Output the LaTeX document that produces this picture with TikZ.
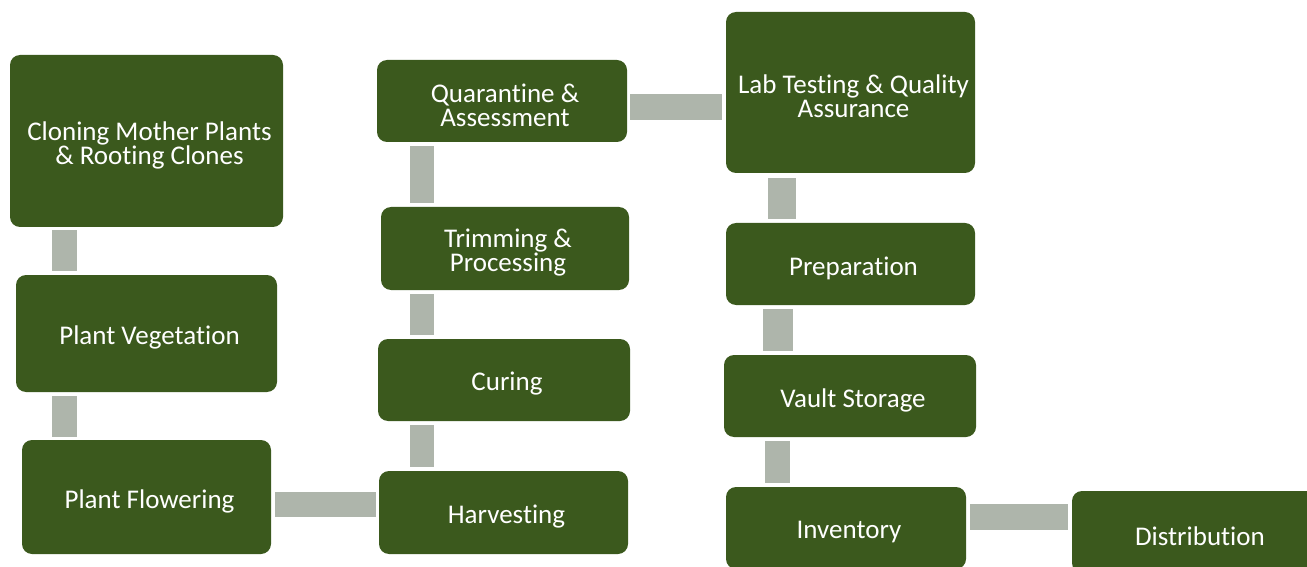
\documentclass[tikz,border=0pt]{standalone}
\usepackage{fontspec}
\setmainfont{Carlito}[Ligatures=NoCommon]
\usetikzlibrary{calc}
\definecolor{leaf}{RGB}{59,89,29}
\definecolor{barcol}{RGB}{174,181,171}
% \stagebox{name}{x}{y}{width}{height}{text}: a green box with its caption
\newcommand{\stagebox}[6]{%
  \node[stage, minimum width=#4, minimum height=#5] (#1) at (#2,#3) {};
  \node[caption] (#1-t) at ([shift={(3,-4)}]#1.center) {#6};}
\begin{document}
\begin{tikzpicture}[x=1pt,y=1pt,
  stage/.style={fill=leaf, rounded corners=10pt, inner sep=0pt},
  caption/.style={text=white, inner sep=0pt, align=center,
    font=\fontsize{27}{24}\selectfont},
  bar/.style={fill=barcol}]
\useasboundingbox (0,0) rectangle (1307,566);
% process stages
\stagebox{clone}{146.5}{425}{273}{172}{Cloning Mother Plants\\ \& Rooting Clones}
\stagebox{veg}{146.5}{232.5}{261}{117}{Plant Vegetation}
\stagebox{flower}{146.5}{69}{249}{114}{Plant Flowering}
\stagebox{harvest}{503.5}{53.5}{249}{83}{Harvesting}
\stagebox{curing}{504}{186}{252}{82}{Curing}
\stagebox{trim}{505}{317.5}{248}{83}{Trimming \&\\ Processing}
\stagebox{quar}{502}{465}{250}{82}{Quarantine \&\\ Assessment}
\stagebox{lab}{850.5}{473.5}{249}{161}{Lab Testing \& Quality\\ Assurance}
\stagebox{prep}{850.5}{302}{249}{82}{Preparation}
\stagebox{vault}{850}{170}{252}{82}{Vault Storage}
\stagebox{inv}{846}{38}{240}{82}{Inventory}
\stagebox{dist}{1197}{34}{250}{82}{Distribution}
% connecting bars
\fill[bar] ($(clone.south west)+(42,-3)$)  rectangle ($(veg.north west)+(61,4)$);
\fill[bar] ($(veg.south west)+(36,-4)$)    rectangle ($(flower.north west)+(55,3)$);
\fill[bar] ($(flower.north east)+(4,-52)$) rectangle ($(harvest.north west)+(-3,-46)$);
\fill[bar] ($(harvest.north west)+(31,4)$) rectangle ($(curing.south west)+(56,-4)$);
\fill[bar] ($(curing.north west)+(32,4)$)  rectangle ($(trim.south west)+(53,-4)$);
\fill[bar] ($(trim.north west)+(29,4)$)    rectangle ($(quar.south west)+(57,-4)$);
\fill[bar] ($(quar.north east)+(3,-34)$)   rectangle ($(lab.north west)+(-4,-108)$);
\fill[bar] ($(lab.south west)+(42,-5)$)    rectangle ($(prep.north west)+(70,4)$);
\fill[bar] ($(prep.south west)+(37,-4)$)   rectangle ($(vault.north west)+(69,4)$);
\fill[bar] ($(vault.south west)+(41,-4)$)  rectangle ($(inv.north west)+(64,4)$);
\fill[bar] ($(inv.north east)+(4,-17)$)    rectangle ($(dist.north west)+(-4,-39)$);
\end{tikzpicture}
\end{document}
